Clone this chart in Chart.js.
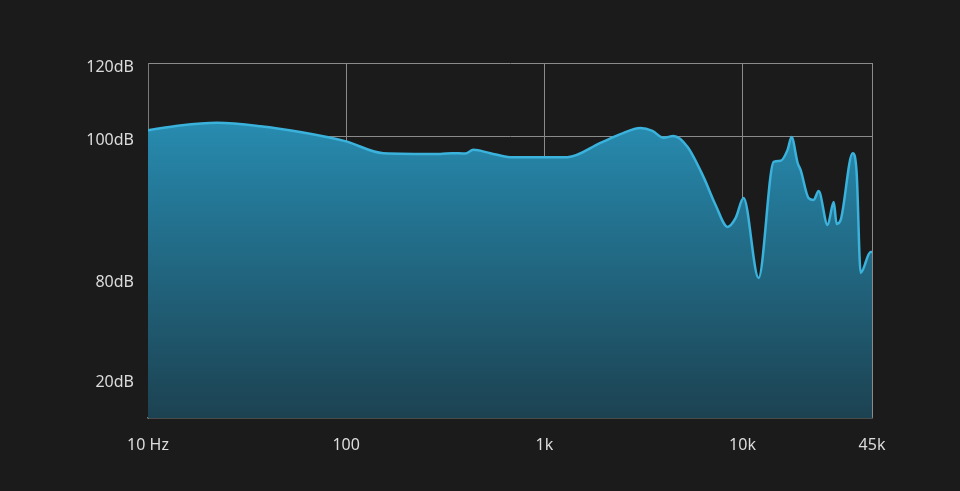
<!DOCTYPE html>
<html>
<head>
<meta charset="utf-8">
<script src="https://cdn.jsdelivr.net/npm/chart.js@4"></script>
<style>
  html, body { margin: 0; padding: 0; background: #1b1b1b; }
  #wrap { width: 960px; height: 491px; }
</style>
</head>
<body>
<div id="wrap"><canvas id="myChart" width="960" height="491"></canvas></div>
<script>
// frequency (Hz) of each point
var freqs = [10, 14.5, 22.3, 36.8, 58.6, 98.8, 154, 298, 343, 399, 438, 534, 673, 1307, 1918, 2420, 3050, 3510, 3990, 4480, 5280, 6350, 7310, 8400, 9220, 10120, 12050, 14360, 15560, 16870, 17670, 18970, 19630, 21540, 22840, 24210, 26860, 28840, 29850, 31280, 35940, 37650, 39450, 44260, 45000];
// level (dB on the drawn scale)
var levels = [101.6, 102.9, 103.6, 102.7, 101.1, 98.6, 95.3, 95.1, 95.3, 95.2, 96.2, 95.3, 94.2, 94.2, 98.1, 100.5, 102.2, 101.4, 99.5, 100.0, 97.0, 88.8, 81.1, 75.1, 77.5, 83.0, 61.1, 92.9, 93.2, 96.2, 99.7, 92.6, 90.7, 83.0, 82.5, 84.9, 75.6, 81.9, 75.9, 77.0, 95.3, 89.9, 62.5, 68.2, 68.2];

var xTicks = [10, 100, 1000, 10000, 45000];
var xLabels = ['10 Hz', '100', '1k', '10k', '45k'];
var yTicks = [120, 100, 61, 33.7];
var yLabels = ['120dB', '100dB', '80dB', '20dB'];

var points = freqs.map(function (f, i) { return { x: f, y: levels[i] }; });

var ctx = document.getElementById('myChart').getContext('2d');
var chart = new Chart(ctx, {
    type: 'line',
    data: {
        datasets: [{
            data: points,
            borderColor: '#3ab2dc',
            borderWidth: 2.5,
            pointRadius: 0,
            cubicInterpolationMode: 'monotone',
            fill: 'start',
            backgroundColor: function (c) {
                var area = c.chart.chartArea;
                if (!area) return '#25708c';
                var g = c.chart.ctx.createLinearGradient(0, area.top, 0, area.bottom);
                g.addColorStop(0, '#2b9cc4');
                g.addColorStop(0.35, '#247a9a');
                g.addColorStop(1, '#1c4251');
                return g;
            }
        }]
    },
    options: {
        responsive: false,
        animation: false,
        layout: { padding: { left: 0, right: 88, top: 63, bottom: 0 } },
        plugins: { legend: { display: false }, tooltip: { enabled: false } },
        scales: {
            x: {
                type: 'logarithmic',
                min: 10,
                max: 45000,
                afterBuildTicks: function (s) { s.ticks = xTicks.map(function (v) { return { value: v }; }); },
                afterFit: function (s) { s.height = 73; },
                ticks: {
                    color: '#dcdcdc',
                    font: { family: 'Noto Sans', size: 16 },
                    padding: 18,
                    maxRotation: 0,
                    autoSkip: false,
                    callback: function (v) { return xLabels[xTicks.indexOf(v)]; }
                },
                grid: { color: '#8a8a8a', lineWidth: 1, drawTicks: false },
                border: { color: '#7a7a7a', width: 1.5 }
            },
            y: {
                min: 22.74,
                max: 120,
                afterBuildTicks: function (s) { s.ticks = yTicks.map(function (v) { return { value: v }; }); },
                afterFit: function (s) { s.width = 148; },
                ticks: {
                    color: '#dcdcdc',
                    font: { family: 'Noto Sans', size: 16 },
                    padding: 14,
                    labelOffset: 4,
                    autoSkip: false,
                    callback: function (v) { return yLabels[yTicks.indexOf(v)]; }
                },
                grid: {
                    drawTicks: false,
                    lineWidth: 1,
                    color: function (c) {
                        return (c.tick && (c.tick.value === 100 || c.tick.value === 120)) ? '#8a8a8a' : 'rgba(0,0,0,0)';
                    }
                },
                border: { color: '#7a7a7a', width: 1 }
            }
        }
    }
});
</script>
</body>
</html>
